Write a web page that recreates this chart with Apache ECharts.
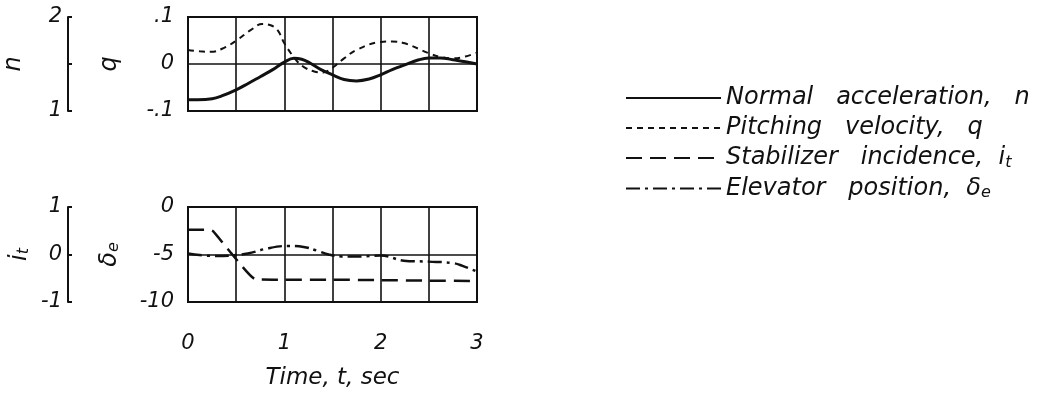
<!DOCTYPE html>
<html>
<head>
<meta charset="utf-8">
<script src="https://cdn.jsdelivr.net/npm/echarts@6/dist/echarts.min.js"></script>
<style>
  html, body { margin: 0; padding: 0; background: #fff; }
  #chart { width: 1055px; height: 398px; }
</style>
</head>
<body>
<div id="chart"></div>
<script>
// time ticks (sec) and tick labels
var timeLabels = [0, 1, 2, 3];

// normal acceleration n (g)
var nTime = [0, 0.1, 0.25, 0.35, 0.5, 0.62, 0.75, 0.88, 1.0, 1.1, 1.18, 1.25, 1.38, 1.5, 1.62, 1.75, 1.88, 2.0, 2.12, 2.25, 2.38, 2.5, 2.62, 2.75, 2.88, 3.0];
var nValues = [1.12, 1.12, 1.13, 1.16, 1.225, 1.29, 1.365, 1.44, 1.52, 1.56, 1.55, 1.52, 1.44, 1.385, 1.335, 1.32, 1.34, 1.385, 1.44, 1.49, 1.54, 1.565, 1.565, 1.545, 1.525, 1.5];

// pitching velocity q
var qTime = [0, 0.12, 0.24, 0.38, 0.51, 0.65, 0.77, 0.85, 0.93, 1.0, 1.12, 1.2, 1.31, 1.4, 1.5, 1.62, 1.75, 2.0, 2.12, 2.25, 2.5, 2.62, 2.75, 2.88, 3.0];
var qValues = [0.030, 0.027, 0.026, 0.035, 0.051, 0.072, 0.085, 0.083, 0.072, 0.044, 0.009, -0.006, -0.016, -0.018, -0.008, 0.012, 0.030, 0.047, 0.048, 0.044, 0.023, 0.015, 0.012, 0.016, 0.024];

// stabilizer incidence it
var itTime = [0, 0.22, 0.26, 0.46, 0.70, 1.0, 1.5, 2.0, 2.5, 3.0];
var itValues = [0.52, 0.52, 0.49, 0.0, -0.52, -0.53, -0.53, -0.54, -0.55, -0.56];

// elevator position de
var deTime = [0, 0.27, 0.46, 0.62, 0.83, 1.03, 1.2, 1.34, 1.46, 1.59, 1.8, 2.0, 2.24, 2.5, 2.75, 2.85, 3.0];
var deValues = [-4.9, -5.15, -5.1, -4.9, -4.35, -4.1, -4.2, -4.6, -5.0, -5.2, -5.2, -5.1, -5.65, -5.75, -5.9, -6.2, -6.8];

var legendNames = ["Normal acceleration, n", "Pitching velocity, q", "Stabilizer incidence, it", "Elevator position, δe"];

function zip(xs, ys) {
  var out = [];
  for (var i = 0; i < xs.length; i++) out.push([xs[i], ys[i]]);
  return out;
}

var font = "DejaVu Sans";
var ink = "#111";
var labelStyle = { color: ink, fontSize: 21, fontStyle: "italic", fontFamily: font };

var chart = echarts.init(document.getElementById("chart"), null, { renderer: "canvas" });

function timeAxis(grid, showLabels) {
  return {
    type: "value", gridIndex: grid, min: 0, max: 3, interval: 0.5,
    axisLine: { show: false },
    axisTick: { show: false },
    splitLine: { show: true, lineStyle: { color: ink, width: 1.6 } },
    axisLabel: {
      show: showLabels, margin: 31, color: ink, fontSize: 21, fontStyle: "italic", fontFamily: font,
      formatter: function (v) { return timeLabels.indexOf(v) >= 0 ? String(v) : ""; }
    },
    name: showLabels ? "Time, t, sec" : "",
    nameLocation: "middle", nameGap: 65,
    nameTextStyle: { color: ink, fontSize: 23, fontStyle: "italic", fontFamily: font }
  };
}

var subRich = { b: { fontSize: 24, fontStyle: "italic", fontFamily: font, color: ink },
                s: { fontSize: 16, fontStyle: "italic", fontFamily: font, color: ink, padding: [8, 0, 0, 0] } };

chart.setOption({
  animation: false,
  backgroundColor: "#fff",
  color: [ink, ink, ink, ink],
  grid: [
    { left: 188, top: 17, width: 289, height: 94, show: true, borderColor: ink, borderWidth: 2 },
    { left: 188, top: 207, width: 289, height: 95, show: true, borderColor: ink, borderWidth: 2 }
  ],
  xAxis: [timeAxis(0, false), timeAxis(1, true)],
  yAxis: [
    {
      // q scale
      type: "value", gridIndex: 0, min: -0.1, max: 0.1, interval: 0.1,
      axisLine: { show: false }, axisTick: { show: false },
      splitLine: { show: true, lineStyle: { color: ink, width: 1.6 } },
      axisLabel: Object.assign({ margin: 14, formatter: function (v) {
        if (Math.abs(v) < 1e-9) return "0";
        return v > 0 ? ".1" : "-.1";
      } }, labelStyle),
      name: "q", nameLocation: "middle", nameGap: 66, nameRotate: 90,
      nameTextStyle: { color: ink, fontSize: 24, fontStyle: "italic", fontFamily: font }
    },
    {
      // n scale (bracket)
      type: "value", gridIndex: 0, min: 1, max: 2, interval: 0.5, position: "left", offset: 120,
      axisLine: { show: true, lineStyle: { color: ink, width: 2 } },
      axisTick: { show: true, inside: true, length: 4, lineStyle: { color: ink, width: 2 } },
      splitLine: { show: false },
      axisLabel: Object.assign({ margin: 6, formatter: function (v) {
        return v === 1 || v === 2 ? String(v) : "";
      } }, labelStyle),
      name: "n", nameLocation: "middle", nameGap: 42, nameRotate: 90,
      nameTextStyle: { color: ink, fontSize: 24, fontStyle: "italic", fontFamily: font }
    },
    {
      // delta e scale
      type: "value", gridIndex: 1, min: -10, max: 0, interval: 5,
      axisLine: { show: false }, axisTick: { show: false },
      splitLine: { show: true, lineStyle: { color: ink, width: 1.6 } },
      axisLabel: Object.assign({ margin: 14 }, labelStyle),
      name: "{b|δ}{s|e}", nameLocation: "middle", nameGap: 66, nameRotate: 90,
      nameTextStyle: { color: ink, fontStyle: "italic", fontFamily: font, rich: subRich }
    },
    {
      // it scale (bracket)
      type: "value", gridIndex: 1, min: -1, max: 1, interval: 1, position: "left", offset: 120,
      axisLine: { show: true, lineStyle: { color: ink, width: 2 } },
      axisTick: { show: true, inside: true, length: 4, lineStyle: { color: ink, width: 2 } },
      splitLine: { show: false },
      axisLabel: Object.assign({ margin: 6 }, labelStyle),
      name: "{b|i}{s|t}", nameLocation: "middle", nameGap: 36, nameRotate: 90,
      nameTextStyle: { color: ink, fontStyle: "italic", fontFamily: font, rich: subRich }
    }
  ],
  legend: {
    orient: "vertical", left: 620, top: 81,
    itemWidth: 95, itemHeight: 14, itemGap: 6,
    selectedMode: false,
    itemStyle: { opacity: 0 },
    data: legendNames,
    textStyle: { color: ink, fontSize: 24, fontStyle: "italic", fontFamily: font, lineHeight: 24, padding: [0, 0, 0, 0],
      rich: { s: { fontSize: 16, fontStyle: "italic", fontFamily: font, color: ink, padding: [9, 0, 0, 0] } } },
    formatter: function (name) {
      var map = {
        "Normal acceleration, n": "Normal   acceleration,   n",
        "Pitching velocity, q": "Pitching   velocity,   q",
        "Stabilizer incidence, it": "Stabilizer   incidence,  i{s|t}",
        "Elevator position, δe": "Elevator   position,  δ{s|e}"
      };
      return map[name];
    }
  },
  series: [
    {
      name: legendNames[0], type: "line", xAxisIndex: 0, yAxisIndex: 1,
      data: zip(nTime, nValues), smooth: 0.4, symbol: "none",
      lineStyle: { color: ink, width: 3, type: "solid" }
    },
    {
      name: legendNames[1], type: "line", xAxisIndex: 0, yAxisIndex: 0,
      data: zip(qTime, qValues), smooth: 0.4, symbol: "none",
      lineStyle: { color: ink, width: 2, type: [6, 5] }
    },
    {
      name: legendNames[2], type: "line", xAxisIndex: 1, yAxisIndex: 3,
      data: zip(itTime, itValues), smooth: 0.15, symbol: "none",
      lineStyle: { color: ink, width: 2.5, type: [16, 8] }
    },
    {
      name: legendNames[3], type: "line", xAxisIndex: 1, yAxisIndex: 2,
      data: zip(deTime, deValues), smooth: 0.4, symbol: "none",
      lineStyle: { color: ink, width: 2.5, type: [14, 5, 3, 5] }
    }
  ]
});
</script>
</body>
</html>
